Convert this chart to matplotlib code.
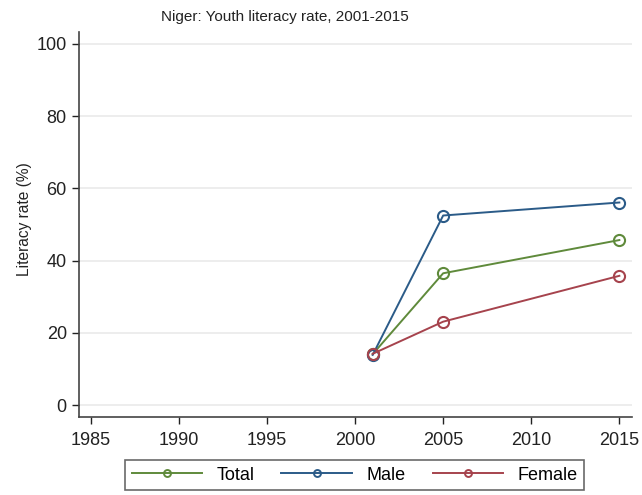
import matplotlib
matplotlib.use("Agg")
import matplotlib.pyplot as plt
from matplotlib.lines import Line2D

plt.rcParams["font.family"] = ["Liberation Sans", "DejaVu Sans"]

# data
years = [2001, 2005, 2015]
total = [14.1, 36.5, 45.7]
male = [13.9, 52.5, 56.1]
female = [14.2, 23.1, 35.8]
series_names = ["Total", "Male", "Female"]
series_colors = ["#5f8a3b", "#2b5b88", "#a6434d"]

xticks = [1985, 1990, 1995, 2000, 2005, 2010, 2015]
yticks = [0, 20, 40, 60, 80, 100]

fig = plt.figure(figsize=(6.42, 4.95), dpi=100)
ax = fig.add_axes([79.3 / 642, 1 - 417 / 495, (631.7 - 79.3) / 642, (417 - 31.7) / 495])

for vals, col in zip([total, male, female], series_colors):
    ax.plot(years, vals, color=col, lw=1.4, marker="o", ms=8,
            mfc="none", mec=col, mew=1.5, zorder=3)

ax.set_xlim(1984.35, 2015.7)
ax.set_ylim(-3.3, 103.4)
ax.set_xticks(xticks)
ax.set_yticks(yticks)
ax.tick_params(labelsize=13, colors="#222222", length=5, width=1, pad=4)
ax.tick_params(axis="x", pad=6)
for s in ("top", "right"):
    ax.spines[s].set_visible(False)
for s in ("left", "bottom"):
    ax.spines[s].set_color("#444444")
    ax.spines[s].set_linewidth(1.2)
ax.yaxis.grid(True, color="#eaeaea", lw=1.2)
ax.set_axisbelow(True)

fig.text(25 / 642, 1 - 219 / 495, "Literacy rate (%)", rotation=90,
         ha="center", va="center", fontsize=11.2, color="#222222")
fig.text(285 / 642, 1 - 17 / 495, "Niger: Youth literacy rate, 2001-2015",
         ha="center", va="center", fontsize=11, color="#222222")

handles = [Line2D([], [], color=c, lw=1.4, marker="o", ms=5, mfc="none",
                  mec=c, mew=1.4) for c in series_colors]
leg = fig.legend(handles, series_names, ncol=3, loc="center",
                 bbox_to_anchor=(354.5 / 642, 1 - 475 / 495),
                 fontsize=13, handlelength=3.9, columnspacing=1.5,
                 handletextpad=0.8, borderpad=0.35, frameon=True,
                 fancybox=False)
leg.get_frame().set_edgecolor("#444444")
leg.get_frame().set_linewidth(1.2)

fig.savefig("out.png", dpi=100, facecolor="white")
